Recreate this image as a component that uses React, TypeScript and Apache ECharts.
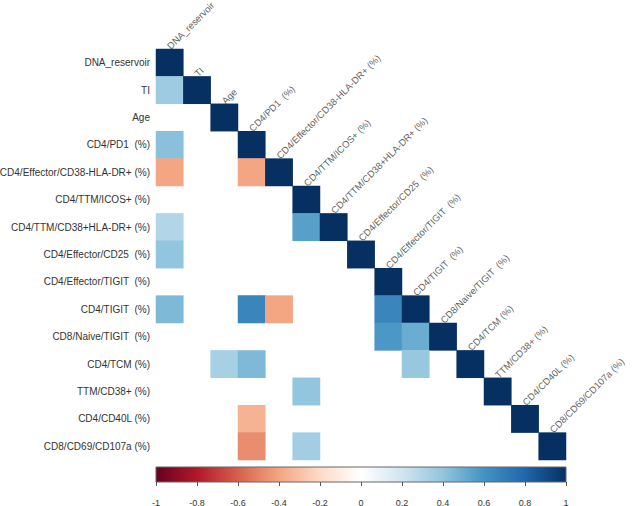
import React, { useEffect, useRef } from "react";
import * as echarts from "echarts";

const rowLabels = [
  "DNA_reservoir",
  "TI",
  "Age",
  "CD4/PD1  (%)",
  "CD4/Effector/CD38-HLA-DR+ (%)",
  "CD4/TTM/ICOS+ (%)",
  "CD4/TTM/CD38+HLA-DR+ (%)",
  "CD4/Effector/CD25  (%)",
  "CD4/Effector/TIGIT  (%)",
  "CD4/TIGIT  (%)",
  "CD8/Naive/TIGIT  (%)",
  "CD4/TCM (%)",
  "TTM/CD38+ (%)",
  "CD4/CD40L (%)",
  "CD8/CD69/CD107a (%)",
];

const colLabels = [
  "DNA_reservoir",
  "TI",
  "Age",
  "CD4/PD1  (%)",
  "CD4/Effector/CD38-HLA-DR+ (%)",
  "CD4/TTM/ICOS+ (%)",
  "CD4/TTM/CD38+HLA-DR+ (%)",
  "CD4/Effector/CD25  (%)",
  "CD4/Effector/TIGIT  (%)",
  "CD4/TIGIT  (%)",
  "CD8/Naive/TIGIT  (%)",
  "CD4/TCM (%)",
  "TTM/CD38+ (%)",
  "CD4/CD40L (%)",
  "CD8/CD69/CD107a (%)",
];

// lower triangle (row by row), null = not shown
const N = null;
const corrRows: (number | null)[][] = [
  [1],
  [0.36, 1],
  [N, N, 1],
  [0.42, N, N, 1],
  [-0.4, N, N, -0.4, 1],
  [N, N, N, N, N, 1],
  [0.3, N, N, N, N, 0.55, 1],
  [0.4, N, N, N, N, N, N, 1],
  [N, N, N, N, N, N, N, N, 1],
  [0.45, N, N, 0.66, -0.4, N, N, N, 0.66, 1],
  [N, N, N, N, N, N, N, N, 0.58, 0.5, 1],
  [N, N, 0.33, 0.45, N, N, N, N, N, 0.38, N, 1],
  [N, N, N, N, N, 0.4, N, N, N, N, N, N, 1],
  [N, N, N, -0.35, N, N, N, N, N, N, N, N, N, 1],
  [N, N, N, -0.47, N, 0.35, N, N, N, N, N, N, N, N, 1],
];

const colorbarTicks = { min: -1, max: 1, step: 0.2 };

const palette = [
  "#67001F",
  "#B2182B",
  "#D6604D",
  "#F4A582",
  "#FDDBC7",
  "#FFFFFF",
  "#D1E5F0",
  "#92C5DE",
  "#4393C3",
  "#2166AC",
  "#053061",
];

const FONT = "'Liberation Sans', Arial, sans-serif";

export default function App() {
  const ref = useRef<HTMLDivElement>(null);
  useEffect(() => {
    if (!ref.current) return;
    const chart = echarts.init(ref.current, undefined, { renderer: "svg" });

    const cells: [number, number, number][] = [];
    corrRows.forEach((row, r) => {
      row.forEach((v, c) => {
        if (v !== null && v !== undefined) cells.push([c, r, v]);
      });
    });
    const diag = colLabels.map((_, i) => [i, i]);

    const gLeft = 156;
    const gTop = 49;
    const gW = 410;
    const gH = 411;
    const cellH = gH / rowLabels.length;

    const cbTop = 467;
    const cbH = 15;

    chart.setOption({
      animation: false,
      textStyle: { fontFamily: FONT },
      grid: [
        { left: gLeft, top: gTop, width: gW, height: gH, outerBoundsMode: "none", containLabel: false },
        { left: gLeft, top: cbTop, width: gW, height: cbH, outerBoundsMode: "none", containLabel: false },
      ],
      xAxis: [
        {
          type: "category",
          gridIndex: 0,
          data: colLabels,
          show: false,
        },
        {
          type: "value",
          gridIndex: 1,
          min: colorbarTicks.min,
          max: colorbarTicks.max,
          interval: colorbarTicks.step,
          axisLine: { show: false },
          axisTick: { show: true, length: 4, lineStyle: { color: "#555" } },
          splitLine: { show: false },
          axisLabel: { fontSize: 9, color: "#333", margin: 16, fontFamily: FONT },
        },
      ],
      yAxis: [
        {
          type: "category",
          gridIndex: 0,
          data: rowLabels,
          inverse: true,
          axisLine: { show: false },
          axisTick: { show: false },
          splitLine: { show: false },
          axisLabel: { fontSize: 10, color: "#333", margin: 6, fontFamily: FONT },
        },
        {
          type: "category",
          gridIndex: 1,
          data: ["bar"],
          show: false,
        },
      ],
      visualMap: {
        type: "continuous",
        show: false,
        min: -1,
        max: 1,
        dimension: 2,
        seriesIndex: 0,
        inRange: { color: palette },
      },
      graphic: [
        {
          type: "rect",
          shape: { x: gLeft, y: cbTop, width: gW, height: cbH },
          style: {
            fill: new echarts.graphic.LinearGradient(
              0,
              0,
              1,
              0,
              palette.map((c, i) => ({ offset: i / (palette.length - 1), color: c }))
            ),
            stroke: "#666",
            lineWidth: 1,
          },
          z: 10,
        },
      ],
      series: [
        {
          type: "heatmap",
          xAxisIndex: 0,
          yAxisIndex: 0,
          data: cells,
          itemStyle: { borderWidth: 0 },
          emphasis: { disabled: true },
        },
        {
          type: "scatter",
          xAxisIndex: 0,
          yAxisIndex: 0,
          data: diag,
          symbolSize: 1,
          itemStyle: { color: "rgba(0,0,0,0)" },
          label: {
            show: true,
            position: [3, -cellH / 2 + 2.5],
            align: "left",
            verticalAlign: "bottom",
            rotate: 45,
            fontSize: 9.5,
            color: "#333",
            fontFamily: FONT,
            formatter: (p: any) => colLabels[p.dataIndex],
          },
          emphasis: { disabled: true },
          z: 5,
        },
        {
          type: "scatter",
          xAxisIndex: 1,
          yAxisIndex: 1,
          data: [],
        },
      ],
    });
    return () => chart.dispose();
  }, []);
  return (
    <div
      ref={ref}
      style={{ position: "fixed", left: 0, top: 0, width: 632, height: 506, background: "#fff" }}
    />
  );
}
